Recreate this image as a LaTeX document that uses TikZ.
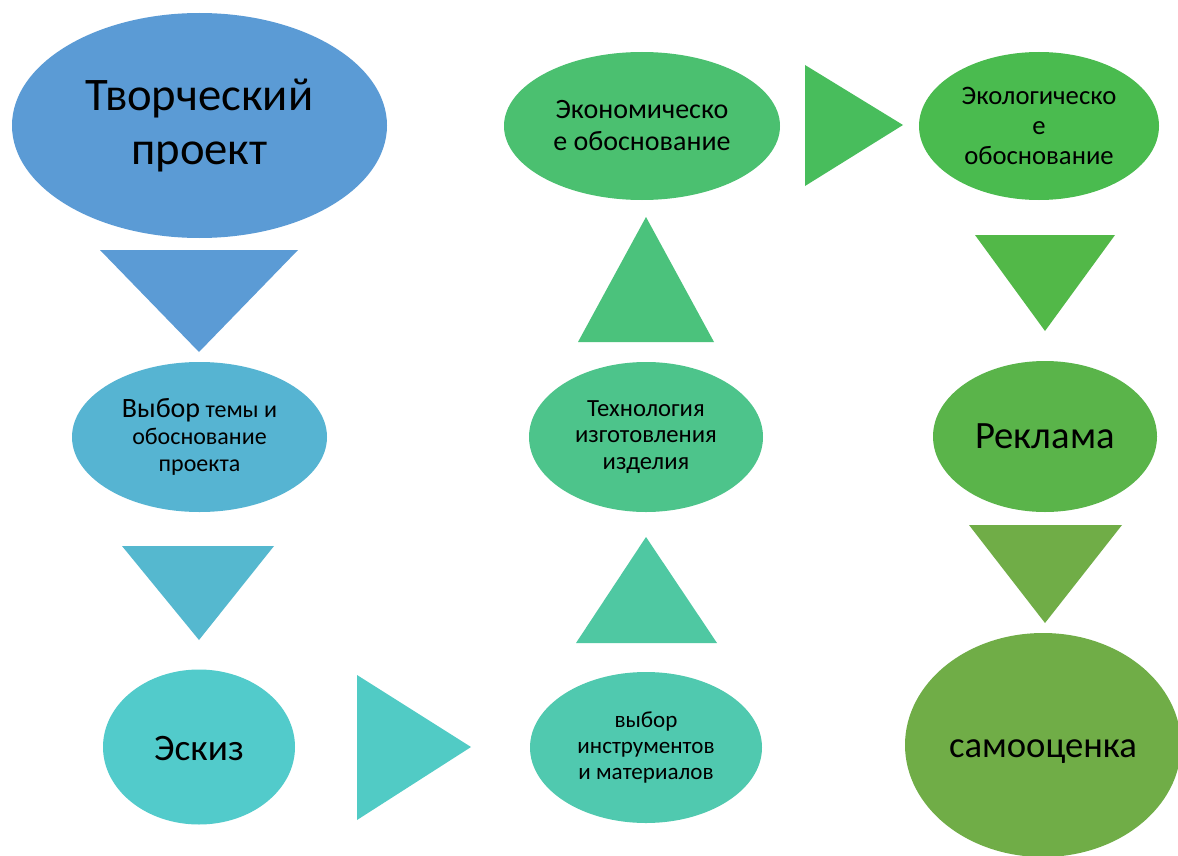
\documentclass[tikz,border=0pt]{standalone}
\usepackage{fontspec}
\setmainfont{Carlito}
\usetikzlibrary{shapes.geometric}
\definecolor{c1}{HTML}{5B9BD5}
\definecolor{c2}{HTML}{56B4D2}
\definecolor{c2t}{HTML}{55B8CF}
\definecolor{c3}{HTML}{52CBCB}
\definecolor{c3t}{HTML}{51CBC5}
\definecolor{c4}{HTML}{50C9AF}
\definecolor{c4t}{HTML}{4FC8A2}
\definecolor{c5}{HTML}{4DC48B}
\definecolor{c5t}{HTML}{4BC27C}
\definecolor{c6}{HTML}{4BC070}
\definecolor{c6t}{HTML}{48BD5C}
\definecolor{c7}{HTML}{4ABB4F}
\definecolor{c7t}{HTML}{52B848}
\definecolor{c8}{HTML}{5AB44A}
\definecolor{c9}{HTML}{70AD47}
\tikzset{
  ell/.style={ellipse, inner sep=0pt, text=black, align=center}
}
\begin{document}
\begin{tikzpicture}[x=0.75pt,y=-0.75pt]
\useasboundingbox (0,0) rectangle (1178,856);
\clip (0,0) rectangle (1178,856);
\fill[white] (0,0) rectangle (1178,856);
% ellipses
\node[ell, fill=c1, minimum width=375*0.75pt, minimum height=225*0.75pt,
  font=\fontsize{35}{40.5}\selectfont] (n1) at (199.5,125.5) {Творческий\\проект};
\node[ell, fill=c2, minimum width=255*0.75pt, minimum height=150*0.75pt,
  font=\fontsize{18}{20}\selectfont] (n2) at (199.5,437) {{\fontsize{21}{20}\selectfont Выбор} темы и\\обоснование\\проекта};
\node[ell, fill=c3, minimum width=192*0.75pt, minimum height=155*0.75pt,
  font=\fontsize{28}{32}\selectfont] (n3) at (199,747) {\raisebox{-1.5pt}[\height][\depth]{Эскиз}};
\node[ell, fill=c4, minimum width=232*0.75pt, minimum height=151*0.75pt,
  font=\fontsize{17.3}{19.5}\selectfont] (n4) at (646,747.5) {выбор\\инструментов\\и материалов};
\node[ell, fill=c5, minimum width=234*0.75pt, minimum height=150*0.75pt,
  font=\fontsize{18.5}{20}\selectfont] (n5) at (646,437) {Технология\\изготовления\\изделия};
\node[ell, fill=c6, minimum width=276*0.75pt, minimum height=148*0.75pt,
  font=\fontsize{21}{24}\selectfont] (n6) at (642,126) {Экономическо\\е обоснование};
\node[ell, fill=c7, minimum width=240*0.75pt, minimum height=148*0.75pt,
  font=\fontsize{20}{22.5}\selectfont] (n7) at (1039,126) {Экологическо\\е\\обоснование};
\node[ell, fill=c8, minimum width=224*0.75pt, minimum height=151*0.75pt,
  font=\fontsize{29}{32}\selectfont] (n8) at (1045,436.5) {Реклама};
\node[ell, fill=c9, minimum width=276*0.75pt, minimum height=224*0.75pt,
  font=\fontsize{27.5}{32}\selectfont] (n9) at (1043,745) {\raisebox{-5pt}[\height][\depth]{самооценка}};
% triangles (arrows)
\fill[c1]  (100,250) -- (298,250) -- (199,352) -- cycle;
\fill[c2t] (122,546) -- (274,546) -- (199,640) -- cycle;
\fill[c3t] (357,675) -- (357,820) -- (471,747) -- cycle;
\fill[c4t] (576,643) -- (717,643) -- (646,537) -- cycle;
\fill[c5t] (578,342) -- (714,342) -- (646,217) -- cycle;
\fill[c6t] (805,65) -- (805,186) -- (903,125) -- cycle;
\fill[c7t] (975,235) -- (1115,235) -- (1045,331) -- cycle;
\fill[c9]  (969,525) -- (1122,525) -- (1045,623) -- cycle;
\end{tikzpicture}
\end{document}
